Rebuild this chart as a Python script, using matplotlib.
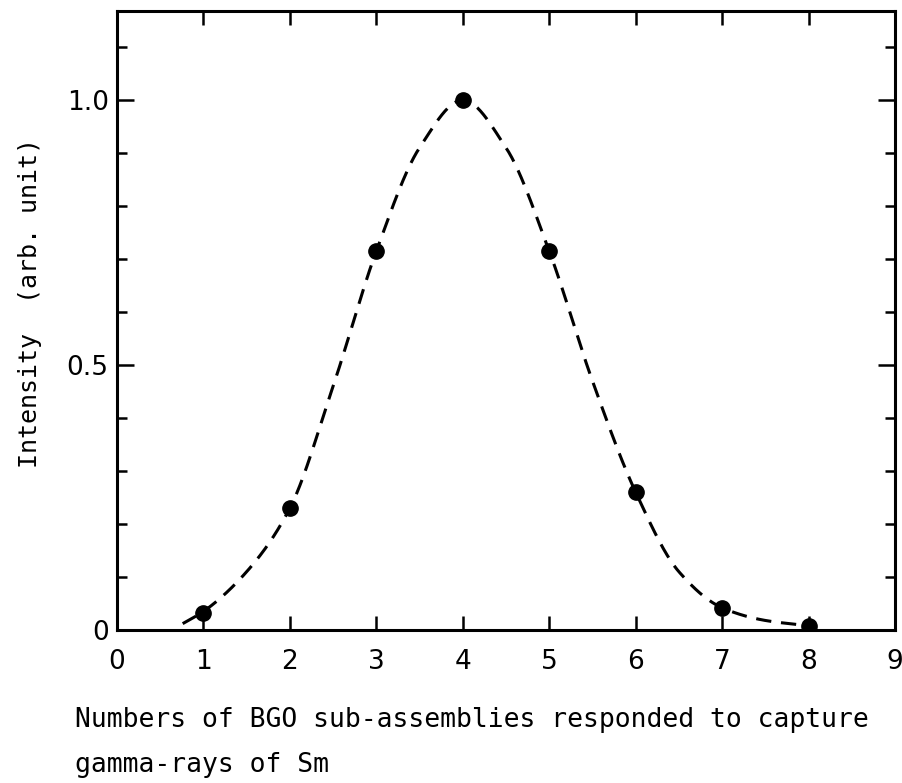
import matplotlib
matplotlib.use("Agg")
import matplotlib.pyplot as plt
import numpy as np
from matplotlib.ticker import MultipleLocator, FixedLocator

plt.rcParams['font.family'] = ['DejaVu Sans']

# measured points
n_assemblies = [1, 2, 3, 4, 5, 6, 7, 8]
intensity = [0.032, 0.23, 0.715, 1.0, 0.715, 0.26, 0.042, 0.008]

# dashed guide curve: knots
curve_x = [0.76, 1.0, 1.5, 2.0, 2.5, 3.0, 3.5, 4.0, 4.5, 5.0, 5.5, 6.0, 6.5, 7.0, 7.5, 8.0]
curve_y = [0.012, 0.035, 0.11, 0.23, 0.46, 0.715, 0.91, 1.0, 0.91, 0.715, 0.47, 0.26, 0.11, 0.042, 0.018, 0.008]

x_ticks = [0, 1, 2, 3, 4, 5, 6, 7, 8, 9]
y_ticks = [0, 0.5, 1.0]
y_tick_labels = ['0', '0.5', '1.0']


def pchip(xs, ys, xq):
    # monotone cubic through the knots
    xs = np.asarray(xs, float)
    ys = np.asarray(ys, float)
    h = np.diff(xs)
    d = np.diff(ys) / h
    m = np.zeros_like(ys)
    for k in range(1, len(xs) - 1):
        if d[k - 1] * d[k] > 0:
            w1 = 2 * h[k] + h[k - 1]
            w2 = h[k] + 2 * h[k - 1]
            m[k] = (w1 + w2) / (w1 / d[k - 1] + w2 / d[k])
    m[0] = d[0]
    m[-1] = d[-1]
    i = np.clip(np.searchsorted(xs, xq) - 1, 0, len(xs) - 2)
    t = (xq - xs[i]) / h[i]
    h00 = 2 * t ** 3 - 3 * t ** 2 + 1
    h10 = t ** 3 - 2 * t ** 2 + t
    h01 = -2 * t ** 3 + 3 * t ** 2
    h11 = t ** 3 - t ** 2
    return h00 * ys[i] + h10 * h[i] * m[i] + h01 * ys[i + 1] + h11 * h[i] * m[i + 1]


fig = plt.figure(figsize=(9.03, 7.83), dpi=100)
ax = fig.add_axes([117 / 903, 153 / 783, 778 / 903, 619 / 783])

cx = np.linspace(curve_x[0], curve_x[-1], 600)
cy = pchip(curve_x, curve_y, cx)
ax.plot(cx, cy, color='black', lw=2.2, ls=(0, (5, 3.2)))
ax.plot(n_assemblies, intensity, 'o', color='black', ms=11)

ax.set_xlim(0, 9)
ax.set_ylim(0, 1.168)

ax.xaxis.set_major_locator(FixedLocator(x_ticks))
ax.set_xticklabels([str(v) for v in x_ticks])
ax.yaxis.set_major_locator(FixedLocator(y_ticks))
ax.set_yticklabels(y_tick_labels)
ax.yaxis.set_minor_locator(MultipleLocator(0.1))

ax.tick_params(axis='x', which='major', direction='in', length=10, width=1.8,
               top=True, labelsize=19, pad=14)
ax.tick_params(axis='y', which='major', direction='in', length=12, width=1.8,
               right=True, labelsize=19, pad=6)
ax.tick_params(axis='y', which='minor', direction='in', length=7, width=1.8,
               right=True)
for s in ax.spines.values():
    s.set_linewidth(2.2)

fig.text(30 / 903, 1 - 303 / 783, 'Intensity  (arb. unit)', rotation=90,
         ha='center', va='center', fontsize=18, family='DejaVu Sans Mono')
fig.text(75 / 903, 1 - 720 / 783, 'Numbers of BGO sub-assemblies responded to capture',
         ha='left', va='center', fontsize=19, family='DejaVu Sans Mono')
fig.text(75 / 903, 1 - 765 / 783, 'gamma-rays of Sm',
         ha='left', va='center', fontsize=19, family='DejaVu Sans Mono')

fig.savefig('out.png', dpi=100)
